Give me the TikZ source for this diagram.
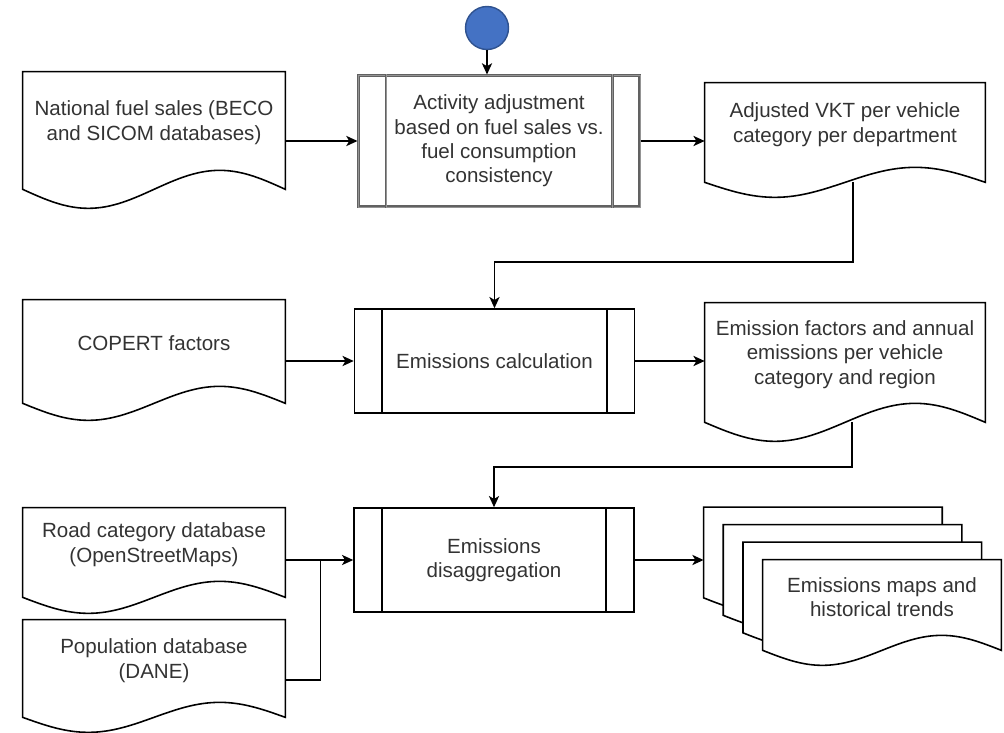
\documentclass[tikz,border=0pt]{standalone}
\usepackage{fontspec}
\setmainfont{Liberation Sans}
\usetikzlibrary{arrows.meta,calc,backgrounds}

\definecolor{startblue}{RGB}{68,114,196}
\definecolor{startedge}{RGB}{47,82,143}
\definecolor{txtgray}{RGB}{51,51,51}

\tikzset{
  outline/.style={line width=0.9pt, line join=miter},
  flow/.style={outline, -{Stealth[length=6.4pt,width=5.8pt,inset=1.7pt]}},
  doc/.style={inner sep=0pt, align=center, text=txtgray,
    font=\fontsize{11.7}{13.9}\selectfont},
  process/.style={doc, draw, outline, minimum width=5.6cm, minimum height=2.08cm},
  grayframe/.style={draw=black!62, line width=0.6pt, double=black!42, double distance=0.5pt},
}

% document outline with wavy bottom: node, wave height
\newcommand{\docoutline}[3][]{%
  \draw[outline,#1] ($(#2.south west)+(0,16)$) -- (#2.north west) -- (#2.north east)
    -- ($(#2.south east)+(0,16)$)
    sin ($(#2.south)!0.5!(#2.south east)+(0,16-#3)$)
    cos ($(#2.south)+(0,16)$)
    sin ($(#2.south)!0.5!(#2.south west)+(0,16+#3)$)
    cos ($(#2.south west)+(0,16)$) -- cycle;}
% the two inner bars of a predefined process
\newcommand{\sidebars}[2][]{%
  \draw[outline,#1] ($(#2.north west)+(28.5,0)$) -- ($(#2.south west)+(28.5,0)$)
    ($(#2.north east)+(-28.5,0)$) -- ($(#2.south east)+(-28.5,0)$);}

\begin{document}
\begin{tikzpicture}[x=0.02cm, y=-0.02cm]
    \useasboundingbox (0,0) rectangle (1004,733);
      \node[circle, fill=startblue, draw=startedge, line width=0.8pt, minimum size=0.86cm, inner sep=0pt] (start) at (487,28) {};
      % Processes
      \node[process, grayframe, minimum width=5.64cm, minimum height=2.64cm] (adjust) at (499,141)
        {Activity adjustment\\based on fuel sales vs.\\fuel consumption\\consistency};
      \node[process] (calc) at (494.5,361) {Emissions calculation};
      \node[process] (disagg) at (494,560) {Emissions\\disaggregation};
      \sidebars[grayframe]{adjust}
      \sidebars{calc}
      \sidebars{disagg}
      % Documents
      \node[doc, minimum width=5.24cm, minimum height=2.02cm] (fuel) at (154,122.5) {National fuel sales (BECO\\and SICOM databases)};
      \node[doc, minimum width=5.24cm, minimum height=1.74cm] (copert) at (154,343.5) {COPERT factors};
      \node[doc, minimum width=5.24cm, minimum height=1.46cm] (road) at (154,544.5) {Road category database\\(OpenStreetMaps)};
      \node[doc, minimum width=5.24cm, minimum height=1.62cm] (pop) at (154,660.5) {Population database\\(DANE)};
      \node[doc, minimum width=5.6cm, minimum height=1.66cm] (vkt) at (845,124.5) {Adjusted VKT per vehicle\\category per department};
      \node[doc, minimum width=5.6cm, minimum height=2.06cm] (efac) at (845,354.5) {Emission factors and annual\\emissions per vehicle\\category and region};
      \foreach \i in {1,2,3}
        \node[doc, minimum width=4.76cm, minimum height=1.48cm] (page\i) at ({882-19.7*(4-\i)},{597-17.5*(4-\i)}) {};
      \node[doc, minimum width=4.76cm, minimum height=1.48cm] (maps) at (882,597) {Emissions maps and\\historical trends};
      \docoutline{fuel}{19}
      \docoutline{copert}{17}
      \docoutline{road}{16}
      \docoutline{pop}{15}
      \docoutline{vkt}{15}
      \docoutline{efac}{19}
      \begin{scope}[on background layer]
        \foreach \i in {1,2,3} {\docoutline[fill=white]{page\i}{15}}
        \docoutline[fill=white]{maps}{15}
      \end{scope}
      % Connectors
      \draw[flow] (start) -- (start |- adjust.north);
      \draw[flow] (fuel.east |- adjust) -- (adjust.west);
      \draw[flow] (adjust.east) -- (adjust.east -| vkt.west);
      \draw[flow] ($(vkt.south)+(8,16)$) |- ($(calc.north)+(0,-46)$) -- (calc.north);
      \draw[flow] (copert.east |- calc) -- (calc.west);
      \draw[flow] (calc.east) -- (calc.east -| efac.west);
      \draw[flow] ($(efac.south)+(7,16)$) |- ($(disagg.north)+(0,-40)$) -- (disagg.north);
      \draw[flow] (road.east |- disagg) -- (disagg.west);
      \coordinate (join) at ($(road.east |- disagg)+(35,0)$);
      \draw[outline] ($(pop.east)+(0,19.5)$) -| (join);
      \draw[flow] (disagg.east) -- (disagg.east -| page1.west);
\end{tikzpicture}
\end{document}
